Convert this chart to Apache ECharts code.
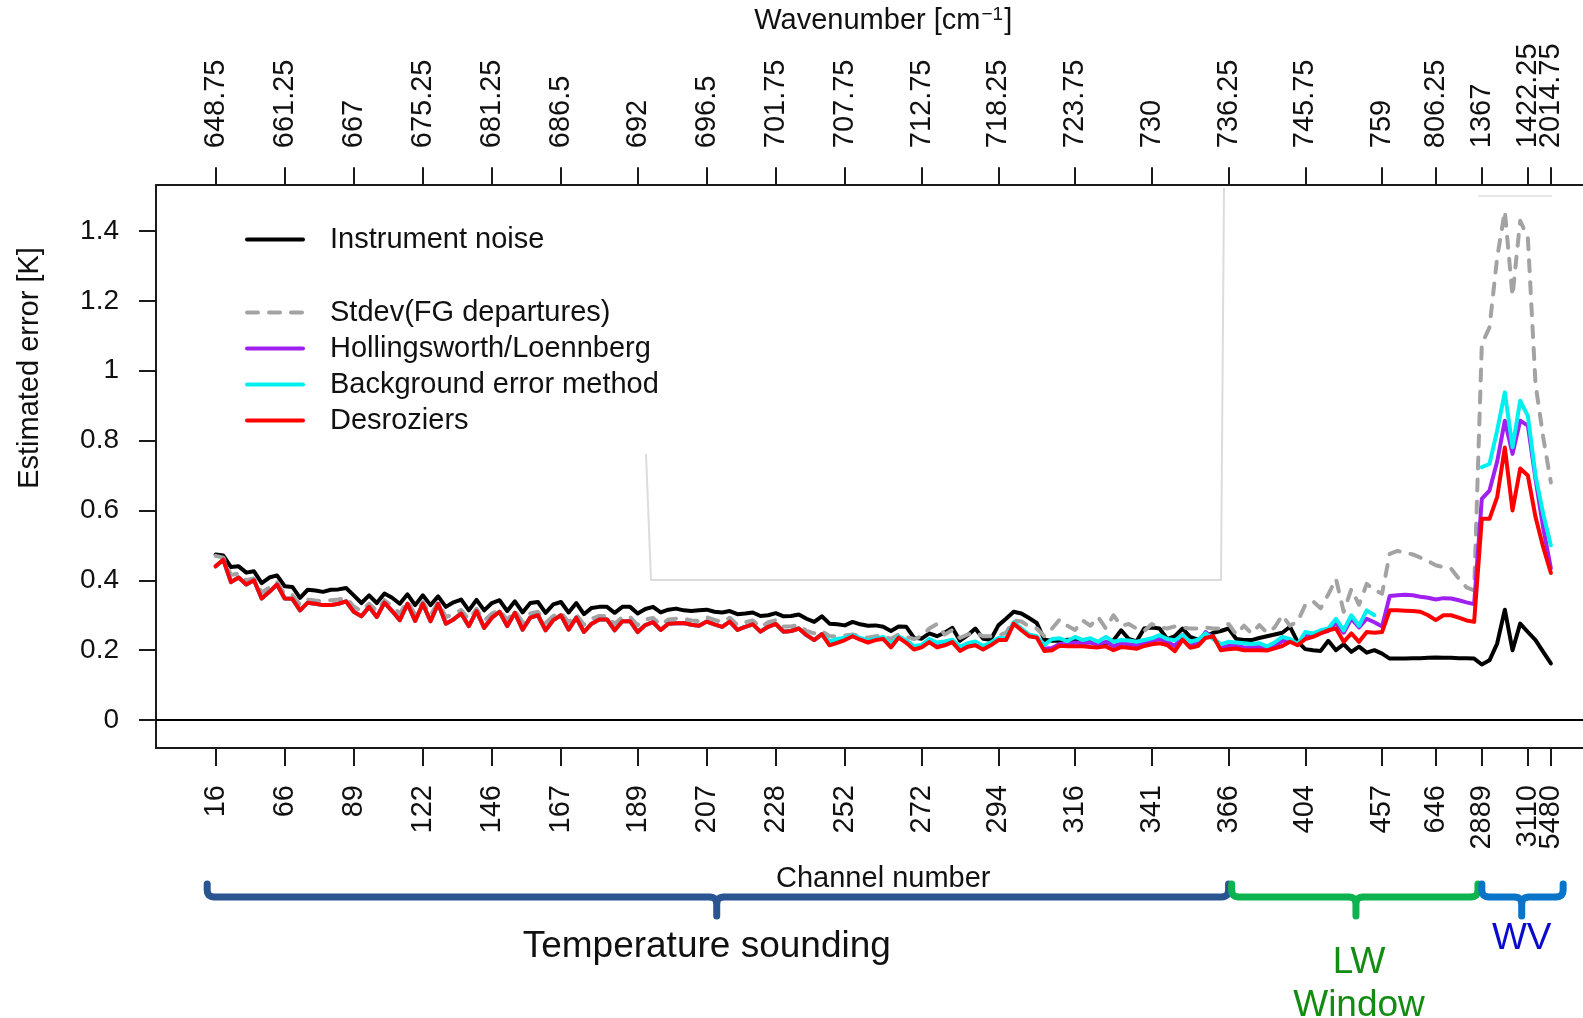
<!DOCTYPE html>
<html>
<head>
<meta charset="utf-8">
<title>Estimated observation error per channel</title>
<script src="https://cdn.jsdelivr.net/npm/echarts@6.0.0/dist/echarts.min.js"></script>
<style>
  html, body { margin: 0; padding: 0; background: #ffffff; overflow: hidden; }
  #chart { width: 1620px; height: 1018px; }
</style>
</head>
<body>
<div id="chart"></div>
<script>
// Channel positions (index along the x axis) that carry tick marks
const tickIndex = [0, 9, 18, 27, 36, 45, 55, 64, 73, 82, 92, 102, 112, 122, 132, 142, 152, 159, 165, 171, 174];
// Bottom axis: channel numbers; top axis: wavenumbers [cm-1]
const channelLabels = ['16', '66', '89', '122', '146', '167', '189', '207', '228', '252', '272', '294', '316', '341', '366', '404', '457', '646', '2889', '3110', '5480'];
const wavenumberLabels = ['648.75', '661.25', '667', '675.25', '681.25', '686.5', '692', '696.5', '701.75', '707.75', '712.75', '718.25', '723.75', '730', '736.25', '745.75', '759', '806.25', '1367', '1422.25', '2014.75'];
const yTicks = [0, 0.2, 0.4, 0.6, 0.8, 1, 1.2, 1.4];
const yTickLabels = ['0', '0.2', '0.4', '0.6', '0.8', '1', '1.2', '1.4'];

// Estimated error [K] for each of the 175 channels (index 0..174)
const instrumentNoise = [
  .474,.471,.438,.440,.422,.426,.392,.408,.414,.383,.381,.350,.373,.371,.367,.373,.374,.378,.357,.335,
  .357,.335,.362,.350,.333,.360,.329,.357,.329,.354,.324,.337,.345,.314,.344,.314,.335,.343,.312,.340,
  .308,.335,.338,.307,.331,.338,.308,.335,.303,.321,.324,.324,.307,.324,.324,.305,.318,
  .324,.308,.316,.319,.314,.312,.314,.316,.310,.308,.312,.303,.305,.308,.298,.300,.306,.297,.298,.302,
  .290,.281,.297,.276,.274,.271,.281,.274,.270,.271,.267,.255,.268,.267,.236,.233,.248,.240,.250,.264,
  .227,.243,.262,.233,.230,.271,.290,.310,.305,.292,.278,.230,.227,.227,.230,.229,.229,
  .225,.222,.220,.228,.257,.232,.225,.262,.265,.262,.232,.240,.262,.238,.230,.240,.250,.255,.262,.232,
  .229,.229,.235,.240,.245,.250,
  .267,.224,.203,.200,.198,.227,.200,.217,.195,.210,.193,.200,.190,.176,.176,.176,.177,.177,.178,.179,
  .178,.178,.177,.177,.176,.159,.171,.219,.316,.200,.276,.252,.229,.195,.162
];
const stdevFG = [
  .470,.465,.415,.420,.400,.405,.365,.380,.395,.360,.358,.330,.345,.342,.340,.343,.345,.350,.325,.312,
  .333,.312,.343,.325,.305,.340,.302,.338,.300,.338,.295,.302,.315,.288,.318,.285,.305,.315,.287,.313,
  .280,.305,.310,.278,.298,.308,.280,.302,.273,.290,.298,.298,.275,.295,.295,.272,.288,
  .292,.272,.288,.290,.290,.285,.283,.294,.287,.280,.293,.272,.280,.285,.266,.280,.286,.268,.268,.272,
  .255,.248,.255,.240,.240,.242,.245,.240,.236,.240,.242,.232,.245,.238,.232,.240,.262,.275,.245,.258,
  .235,.245,.250,.240,.240,.242,.250,.285,.282,.268,.262,.240,.262,.288,.270,.258,.285,
  .270,.295,.262,.300,.270,.275,.262,.255,.275,.265,.262,.268,.265,.262,.262,.265,.262,.262,.275,.245,
  .270,.248,.272,.250,.265,.300,
  .270,.282,.330,.340,.320,.360,.404,.310,.375,.330,.390,.372,.362,
  .476,.484,.480,.474,.465,.455,.443,.438,.433,.405,.380,.371,1.076,1.124,1.324,1.457,1.214,1.429,1.381,.962,
  .810,.680
];
const hollingsworth = [
  .440,.459,.395,.408,.388,.400,.348,.367,.388,.348,.347,.314,.336,.333,.329,.329,.333,.340,.310,.297,
  .324,.295,.336,.312,.286,.333,.284,.333,.283,.333,.276,.288,.305,.269,.312,.264,.293,.310,.269,.307,
  .259,.293,.300,.257,.286,.300,.259,.293,.252,.276,.288,.288,.257,.283,.283,.252,.272,
  .280,.258,.276,.277,.278,.273,.270,.282,.274,.267,.282,.258,.267,.274,.253,.267,.275,.253,.255,.262,
  .243,.229,.246,
  .220,.226,.232,.241,.232,.225,.231,.235,.212,.238,.224,.206,.211,.228,.214,.219,.226,.203,.214,.219,
  .206,.217,.232,.232,.278,.260,.242,.238,.204,.206,.218,.216,.222,.220,.222,.216,.224,.212,.219,.217,
  .214,.220,.226,.232,.224,.212,.243,.214,.220,.252,.236,.208,.212,.213,.208,.208,.209,.205,.212,.226,
  .228,.215,.245,.243,.250,.255,.278,.250,.290,.265,.290,.280,.268,
  .355,.357,.359,.357,.353,.350,.345,.349,.348,.343,.337,.332,.633,.657,.740,.857,.762,.857,.843,.690,
  .550,.434
];
const backgroundMethod = [
  .440,.459,.395,.408,.388,.400,.348,.367,.388,.348,.347,.314,.336,.333,.329,.329,.333,.340,.310,.297,
  .324,.295,.336,.312,.286,.333,.284,.333,.283,.333,.276,.288,.305,.269,.312,.264,.293,.310,.269,.307,
  .259,.293,.300,.257,.286,.300,.259,.293,.252,.276,.288,.288,.257,.283,.283,.252,.272,
  .280,.258,.276,.277,.278,.273,.270,.282,.274,.267,.282,.258,.267,.274,.253,.267,.275,.253,.255,.262,
  .243,.229,.246,
  .225,.232,.236,.242,.235,.228,.233,.238,.218,.240,.228,.212,.215,.232,.222,.225,.230,.210,.220,.225,
  .212,.222,.235,.235,.280,.262,.245,.240,.215,.232,.234,.226,.238,.229,.234,.224,.238,.224,.229,.228,
  .224,.229,.234,.243,.232,.228,.243,.224,.230,.248,.232,.217,.224,.222,.220,.218,.220,.211,.222,.238,
  .232,.217,.252,.248,.257,.262,.290,.257,.300,.270,.314,.300,
  null,null,null,null,null,null,null,null,null,null,null,null,null,
  .724,.733,.829,.938,.781,.914,.871,.700,.590,.500
];
const desroziers = [
  .440,.459,.395,.408,.388,.400,.348,.367,.388,.348,.347,.314,.336,.333,.329,.329,.333,.340,.310,.297,
  .324,.295,.336,.312,.286,.333,.284,.333,.283,.333,.276,.288,.305,.269,.312,.264,.293,.310,.269,.307,
  .259,.293,.300,.257,.286,.300,.259,.293,.252,.276,.288,.288,.257,.283,.283,.252,.272,
  .280,.258,.276,.277,.278,.273,.270,.282,.274,.267,.282,.258,.267,.274,.253,.267,.275,.253,.255,.262,
  .243,.229,.246,.214,.221,.229,.240,.230,.222,.229,.232,.208,.236,.221,.202,.208,.223,.208,.214,.223,
  .198,.210,.214,.202,.214,.229,.229,.276,.257,.240,.236,.198,.200,.213,.211,.211,.211,
  .209,.208,.211,.200,.209,.207,.204,.212,.217,.220,.215,.197,.230,.207,.212,.235,.240,.200,.203,.205,
  .200,.200,.200,.199,.205,.212,.224,.214,.232,.238,.248,.257,.262,.224,.248,.224,.252,.250,.252,
  .314,.314,.313,.312,.310,.300,.286,.300,.300,.293,.285,.281,.576,.576,.638,.780,.600,.720,.700,.581,
  .495,.421
];

const seriesNames = ['Instrument noise', 'Stdev(FG departures)', 'Hollingsworth/Loennberg', 'Background error method', 'Desroziers'];
const seriesColors = ['#000000', '#a3a3a3', '#a020f0', '#00f0f0', '#ff0000'];

// Channel groups drawn as braces under the axis: [start, middle, end] in channel-index units
const groupNames = ['Temperature sounding', 'LW\nWindow', 'WV'];
const groupSpans = [[-1.1, 65.3, 132.0], [132.4, 148.6, 164.5], [165.0, 170.2, 175.6]];
const groupTextAt = [64.0, 149.0, 170.2];

const FONT = '"Liberation Sans", Arial, Helvetica, sans-serif';
const X_MIN = -7.77, X_MAX = 181.77;
const LINE_W = 4;

const toPairs = arr => arr.map((v, i) => [i, v == null ? null : v]);
const labelAt = (labels) => (v) => {
  const k = tickIndex.indexOf(Math.round(v));
  return k < 0 ? '' : labels[k];
};

const chart = echarts.init(document.getElementById('chart'), null, { renderer: 'canvas' });

// The last tick sits very close to its neighbour, so its label gets its own axis layer
const lastTick = tickIndex.slice(-1);
const mainTicks = tickIndex.slice(0, -1);

const labelStyle = { margin: 37, fontSize: 29, color: '#111', fontFamily: FONT, hideOverlap: false };

const xAxisFor = (position, values, labels, extra) => Object.assign({
  type: 'value', min: X_MIN, max: X_MAX, gridIndex: 0, position, offset: 0,
  axisLine: { show: true, onZero: false, lineStyle: { color: '#1a1a1a', width: 2 } },
  axisTick: { show: true, customValues: tickIndex, length: 18, lineStyle: { color: '#1a1a1a', width: 2 } },
  axisLabel: Object.assign({ customValues: values, rotate: position === 'top' ? -90 : 90, formatter: labelAt(labels) }, labelStyle),
  splitLine: { show: false },
  nameLocation: 'middle'
}, extra || {});

const lineSeries = (name, data, color, extra) => Object.assign({
  name, type: 'line', data: toPairs(data),
  xAxisIndex: 0, yAxisIndex: 0,
  symbol: 'none', showSymbol: false, connectNulls: false,
  lineStyle: { color, width: LINE_W, join: 'round', cap: 'round' },
  itemStyle: { color },
  emphasis: { disabled: true },
  silent: true
}, extra || {});

const legendCommon = {
  left: 240, orient: 'vertical',
  itemWidth: 56, itemHeight: 14, itemGap: 7, selectedMode: false,
  itemStyle: { opacity: 0 },
  lineStyle: { width: LINE_W },
  textStyle: { fontSize: 29, color: '#111', fontFamily: FONT, padding: [0, 0, 0, 22], lineHeight: 29 }
};

const option = {
  animation: false,
  backgroundColor: '#ffffff',
  textStyle: { fontFamily: FONT },
  grid: { left: 156, top: 184, width: 1454.5, height: 564, containLabel: false },
  xAxis: [
    xAxisFor('bottom', mainTicks, channelLabels, {
      name: 'Channel number', nameGap: 116,
      nameTextStyle: { fontSize: 29, color: '#111', fontFamily: FONT }
    }),
    xAxisFor('top', mainTicks, wavenumberLabels, {
      name: 'Wavenumber [cm{sup|\u22121}]', nameGap: 136,
      nameTextStyle: {
        fontSize: 29, color: '#111', fontFamily: FONT,
        rich: { sup: { fontSize: 19, color: '#111', fontFamily: FONT, verticalAlign: 'top', padding: [0, 1, 13, 1] } }
      }
    }),
    xAxisFor('bottom', lastTick, channelLabels, { axisLine: { show: false }, axisTick: { show: false } }),
    xAxisFor('top', lastTick, wavenumberLabels, { axisLine: { show: false }, axisTick: { show: false } })
  ],
  yAxis: {
    type: 'value', min: -0.08, max: 1.531,
    axisLine: { show: true, onZero: false, lineStyle: { color: '#1a1a1a', width: 2 } },
    axisTick: { show: true, customValues: yTicks, length: 17, lineStyle: { color: '#1a1a1a', width: 2 } },
    axisLabel: {
      customValues: yTicks, margin: 37, fontSize: 28, color: '#111', fontFamily: FONT,
      formatter: v => { const k = yTicks.findIndex(t => Math.abs(t - v) < 1e-6); return k < 0 ? '' : yTickLabels[k]; }
    },
    splitLine: { show: false }
  },
  legend: [
    Object.assign({}, legendCommon, { data: [seriesNames[0]], top: 220 }),
    Object.assign({}, legendCommon, { data: seriesNames.slice(1), top: 293 })
  ],
  series: [
    lineSeries(seriesNames[0], instrumentNoise, seriesColors[0], {
      z: 2,
      markLine: {
        silent: true, symbol: ['none', 'none'], label: { show: false },
        lineStyle: { color: '#000', width: 2, type: 'solid' },
        data: [{ yAxis: 0 }]
      }
    }),
    lineSeries(seriesNames[1], stdevFG, seriesColors[1], {
      z: 3,
      lineStyle: { color: seriesColors[1], width: LINE_W, type: [11, 11], join: 'round', cap: 'round' }
    }),
    lineSeries(seriesNames[2], hollingsworth, seriesColors[2], { z: 4 }),
    lineSeries(seriesNames[3], backgroundMethod, seriesColors[3], { z: 5 }),
    lineSeries(seriesNames[4], desroziers, seriesColors[4], { z: 6 })
  ]
};

chart.setOption(option);

// Brace outline: rounded ends, a tip under the middle of the group
function bracePoints(x0, xm, x1) {
  const yTop = 884, yLine = 897, yTip = 916, r = 7;
  const pts = [];
  const quad = (p0, p1, p2) => {
    for (let t = 0.25; t <= 1.001; t += 0.25) {
      const a = (1 - t) * (1 - t), b = 2 * (1 - t) * t, c = t * t;
      pts.push([a * p0[0] + b * p1[0] + c * p2[0], a * p0[1] + b * p1[1] + c * p2[1]]);
    }
  };
  pts.push([x0, yTop], [x0, yLine - r]);
  quad([x0, yLine - r], [x0, yLine], [x0 + r, yLine]);
  pts.push([xm - r, yLine]);
  quad([xm - r, yLine], [xm, yLine], [xm, yLine + r]);
  pts.push([xm, yTip], [xm, yLine + r]);
  quad([xm, yLine + r], [xm, yLine], [xm + r, yLine]);
  pts.push([x1 - r, yLine]);
  quad([x1 - r, yLine], [x1, yLine], [x1, yLine - r]);
  pts.push([x1, yTop]);
  return pts;
}

const px = v => chart.convertToPixel({ xAxisIndex: 0 }, v);
const braceColors = ['#2b5591', '#0db34f', '#0a74c8'];
const textColors = ['#111111', '#128c12', '#0a0acc'];
const textY = [947, 984, 939];
const graphics = [
  // faint frame left inside the plot region
  { type: 'polyline', silent: true, z: 1,
    shape: { points: [[646, 454], [651, 580], [1221, 580], [1224, 188]] },
    style: { stroke: '#dcdcdc', lineWidth: 2, fill: null } },
  { type: 'polyline', silent: true, z: 1,
    shape: { points: [[1478, 196], [1552, 196]] },
    style: { stroke: '#e6e6e6', lineWidth: 2, fill: null } },
  // y-axis title
  { type: 'text', silent: true, z: 10, x: 30, y: 368, rotation: Math.PI / 2,
    style: { text: 'Estimated error [K]', font: `29px ${FONT}`, fill: '#111', align: 'center', verticalAlign: 'middle' } }
];
groupSpans.forEach((s, k) => {
  graphics.push({
    type: 'polyline', silent: true, z: 10,
    shape: { points: bracePoints(px(s[0]), px(s[1]), px(s[2])) },
    style: { stroke: braceColors[k], lineWidth: 7, fill: null, lineCap: 'round', lineJoin: 'round' }
  });
  graphics.push({
    type: 'text', silent: true, z: 10,
    x: px(groupTextAt[k]), y: textY[k],
    style: {
      text: groupNames[k], font: `37px ${FONT}`, fill: textColors[k],
      align: 'center', verticalAlign: 'middle', lineHeight: 43
    }
  });
});
chart.setOption({ graphic: graphics });
</script>
</body>
</html>
